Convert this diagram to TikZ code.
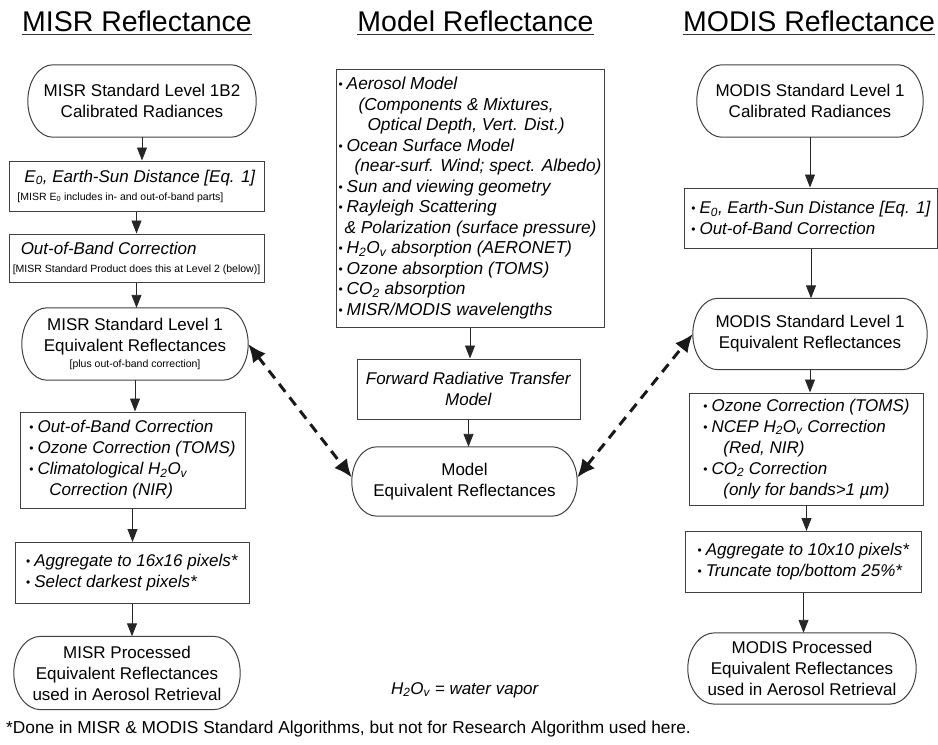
\documentclass[tikz,border=0pt]{standalone}
\usepackage{fontspec}
\setmainfont{Liberation Sans}
\usetikzlibrary{arrows.meta,calc}
\newcommand\smalltxt[1]{{\fontsize{10.5}{12}\selectfont #1}}
\newcommand\bul{\raisebox{1pt}{\fontsize{12}{12}\selectfont\textbullet}\hspace{4pt}}
\newcommand\stadium[2]{%
  \draw[line width=1pt, draw=black!75] let \p1=(#1.north west), \p2=(#1.south east), \n1={(\y1-\y2)/2} in
  (\x1+#2pt,\y1) -- (\x2-#2pt,\y1) arc[start angle=90,end angle=-90,x radius=#2pt,y radius=\n1]
  -- (\x1+#2pt,\y2) arc[start angle=270,end angle=90,x radius=#2pt,y radius=\n1] -- cycle;}
\tikzset{
  basenode/.style={font=\fontsize{17}{21}\selectfont, inner sep=0pt, text=black},
  boxnode/.style={basenode, draw=black!75, line width=1pt, align=left},
  stadnode/.style={basenode, align=center},
  arr/.style={-{Triangle[length=13pt,width=10pt]}, line width=0.9pt, draw=black!85},
  dasharr/.style={{Latex[length=18pt,width=16pt]}-{Latex[length=18pt,width=16pt]}, line width=3pt, dash pattern=on 10pt off 7pt, draw=black!90},
  titlenode/.style={font=\fontsize{28.5}{30}\selectfont, inner sep=0pt, anchor=base, text=black},
  uline/.style={line width=1.6pt, draw=black!80},
  plain/.style={basenode, anchor=base west}
}
\begin{document}
\begin{tikzpicture}[x=1pt,y=-1pt]
\useasboundingbox (0,0) rectangle (938,745);
% titles
\node[titlenode] (t1) at (137,31) {MISR Reflectance};
\node[titlenode] (t2) at (475.5,31) {Model Reflectance};
\node[titlenode] (t3) at (809,31) {MODIS Reflectance};
\foreach \t in {t1,t2,t3}{\draw[uline] ([yshift=-3.5pt]\t.base west) -- ([yshift=-3.5pt]\t.base east);}

% left column
\node[stadnode, minimum width=228pt, minimum height=72pt] (m1) at (142,101) {MISR Standard Level 1B2\\Calibrated Radiances};
\node[boxnode, minimum width=255pt, minimum height=50pt] (m2) at (136.5,186) {\hspace*{7pt}\textit{E\textsubscript{0}, Earth-Sun Distance [Eq. 1]}\\[-3pt]\smalltxt{[MISR E\textsubscript{0} includes in- and out-of-band parts]}};
\node[boxnode, minimum width=255pt, minimum height=48pt] (m3) at (136.5,258) {\hspace*{8pt}\textit{Out-of-Band Correction}\\[-3pt]\smalltxt{[MISR Standard Product does this at Level 2 (below)]}};
\node[stadnode, minimum width=226pt, minimum height=72pt] (m4) at (135,344) {MISR Standard Level 1\\Equivalent Reflectances\\[-5pt]\smalltxt{[plus out-of-band correction]}};
\node[boxnode, minimum width=225pt, minimum height=96pt] (m5) at (132.5,460) {\bul\textit{Out-of-Band Correction}\\\bul\textit{Ozone Correction (TOMS)}\\\bul\textit{Climatological H\textsubscript{2}O\textsubscript{v}}\\\hspace*{20pt}\textit{Correction (NIR)}};
\node[boxnode, minimum width=234pt, minimum height=61pt] (m6) at (132,573) {\bul\textit{Aggregate to 16x16 pixels*}\\\bul\textit{Select darkest pixels*}};
\node[stadnode, minimum width=226pt, minimum height=73pt] (m7) at (127,673) {MISR Processed\\Equivalent Reflectances\\used in Aerosol Retrieval};

% middle column
\node[boxnode, minimum width=268pt, minimum height=258pt, font=\fontsize{17.3}{20.5}\selectfont] (c1) at (470,198) {\bul\textit{Aerosol Model}\\
\hspace*{20pt}\textit{(Components \& Mixtures,}\\
\hspace*{29pt}\textit{Optical Depth, Vert. Dist.)}\\
\bul\textit{Ocean Surface Model}\\
\hspace*{16pt}\textit{(near-surf. Wind; spect. Albedo)}\\
\bul\textit{Sun and viewing geometry}\\
\bul\textit{Rayleigh Scattering}\\
\hspace*{6pt}\textit{\& Polarization (surface pressure)}\\
\bul\textit{H\textsubscript{2}O\textsubscript{v} absorption (AERONET)}\\
\bul\textit{Ozone absorption (TOMS)}\\
\bul\textit{CO\textsubscript{2} absorption}\\
\bul\textit{MISR/MODIS wavelengths}};
\node[boxnode, align=center, minimum width=223pt, minimum height=60pt] (c2) at (468.5,389) {\textit{Forward Radiative Transfer}\\\textit{Model}};
\node[stadnode, minimum width=225pt, minimum height=69pt] (c3) at (464.5,481.5) {Model\\Equivalent Reflectances};

% right column
\node[stadnode, minimum width=226pt, minimum height=72pt] (r1) at (810,101) {MODIS Standard Level 1\\Calibrated Radiances};
\node[boxnode, minimum width=253pt, minimum height=60pt] (r2) at (811,218) {\bul\textit{E\textsubscript{0}, Earth-Sun Distance [Eq. 1]}\\\bul\textit{Out-of-Band Correction}};
\node[stadnode, minimum width=234pt, minimum height=71pt] (r3) at (810,334) {MODIS Standard Level 1\\Equivalent Reflectances};
\node[boxnode, minimum width=234pt, minimum height=112pt] (r4) at (806.5,449) {\bul\textit{Ozone Correction (TOMS)}\\\bul\textit{NCEP H\textsubscript{2}O\textsubscript{v} Correction}\\\hspace*{20pt}\textit{(Red, NIR)}\\\bul\textit{CO\textsubscript{2} Correction}\\\hspace*{20pt}\textit{(only for bands>1 µm)}};
\node[boxnode, minimum width=236pt, minimum height=61pt] (r5) at (803.5,562) {\bul\textit{Aggregate to 10x10 pixels*}\\\bul\textit{Truncate top/bottom 25\%*}};
\node[stadnode, minimum width=228pt, minimum height=71pt] (r6) at (802,668.5) {MODIS Processed\\Equivalent Reflectances\\used in Aerosol Retrieval};

% stadium outlines
\stadium{m1}{25}\stadium{m4}{25}\stadium{m7}{27}
\stadium{c3}{25}
\stadium{r1}{25}\stadium{r3}{25}\stadium{r6}{27}

% notes
\node[basenode] (note) at (465,690) {\textit{H\textsubscript{2}O\textsubscript{v} = water vapor}};
\node[plain, font=\fontsize{17.3}{20}\selectfont] (foot) at (6,733) {*Done in MISR \& MODIS Standard Algorithms, but not for Research Algorithm used here.};

% arrows
\foreach \a/\b in {m1/m2,m2/m3,m3/m4,m4/m5,m5/m6,m6/m7,c1/c2,c2/c3,r1/r2,r2/r3,r3/r4,r4/r5,r5/r6}{
  \draw[arr] (\a.south) -- (\a.south |- \b.north);}
\draw[dasharr] (m4.east) -- ([yshift=4pt]c3.west);
\draw[dasharr] ([yshift=4pt]c3.east) -- (r3.west);
\end{tikzpicture}
\end{document}
